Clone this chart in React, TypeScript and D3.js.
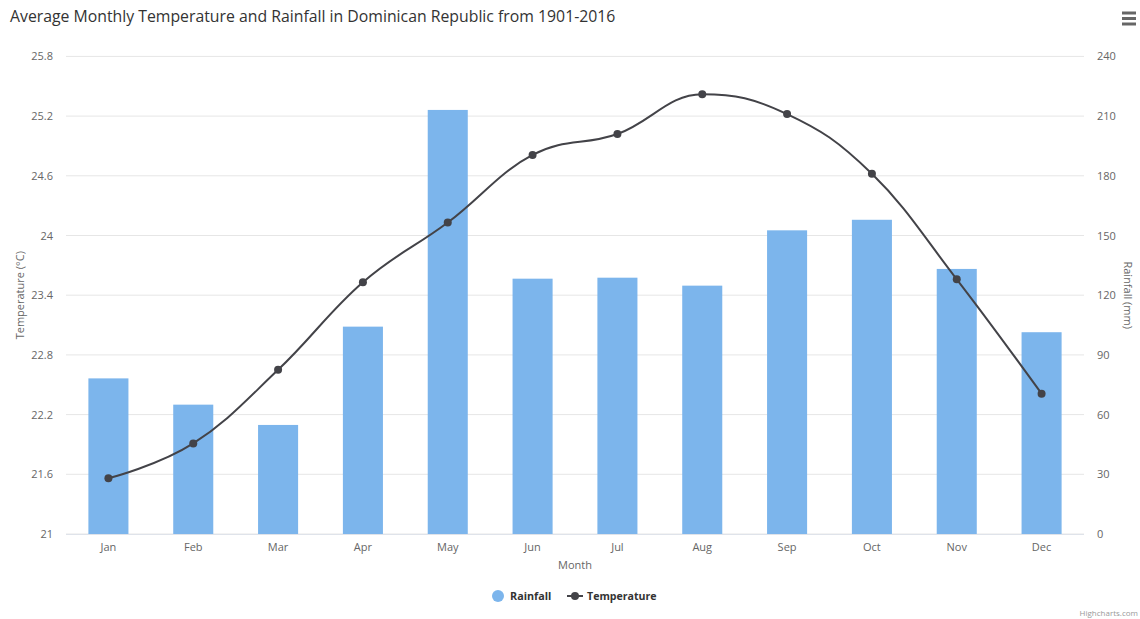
import React from "react";
import * as d3 from "d3";

const months = ["Jan", "Feb", "Mar", "Apr", "May", "Jun", "Jul", "Aug", "Sep", "Oct", "Nov", "Dec"];
const rainfall = [78.2, 65.0, 54.8, 104.2, 213.1, 128.3, 128.8, 124.8, 152.6, 157.9, 133.2, 101.4];
const temperature = [21.56, 21.91, 22.65, 23.53, 24.13, 24.81, 25.02, 25.42, 25.22, 24.62, 23.56, 22.41];
const tempTicks = [21, 21.6, 22.2, 22.8, 23.4, 24, 24.6, 25.2, 25.8];
const rainTicks = [0, 30, 60, 90, 120, 150, 180, 210, 240];

const W = 1140;
const H = 619;
const M = { left: 66, right: 1084, top: 56.4, bottom: 534 };
const FONT = "'Open Sans', 'Noto Sans', sans-serif";

// Highcharts-like spline curve for d3.line
function HcSpline(this: any, context: any) {
  this._context = context;
}
HcSpline.prototype = {
  areaStart() {},
  areaEnd() {},
  lineStart() {
    this._pts = [];
  },
  point(x: number, y: number) {
    this._pts.push([x, y]);
  },
  lineEnd() {
    const p = this._pts;
    const ctx = this._context;
    if (!p.length) return;
    const smoothing = 1.5;
    const denom = smoothing + 1;
    const rc: (number[] | null)[] = p.map(() => null);
    const lc: (number[] | null)[] = p.map(() => null);
    for (let i = 1; i < p.length - 1; i++) {
      const [x, y] = p[i];
      const [lx, ly] = p[i - 1];
      const [nx, ny] = p[i + 1];
      let leftX = (smoothing * x + lx) / denom;
      let leftY = (smoothing * y + ly) / denom;
      let rightX = (smoothing * x + nx) / denom;
      let rightY = (smoothing * y + ny) / denom;
      let corr = 0;
      if (rightX !== leftX) {
        corr = ((rightY - leftY) * (rightX - x)) / (rightX - leftX) + y - rightY;
      }
      leftY += corr;
      rightY += corr;
      if (leftY > ly && leftY > y) {
        leftY = Math.max(ly, y);
        rightY = 2 * y - leftY;
      } else if (leftY < ly && leftY < y) {
        leftY = Math.min(ly, y);
        rightY = 2 * y - leftY;
      }
      if (rightY > ny && rightY > y) {
        rightY = Math.max(ny, y);
        leftY = 2 * y - rightY;
      } else if (rightY < ny && rightY < y) {
        rightY = Math.min(ny, y);
        leftY = 2 * y - rightY;
      }
      lc[i] = [leftX, leftY];
      rc[i] = [rightX, rightY];
    }
    ctx.moveTo(p[0][0], p[0][1]);
    for (let i = 1; i < p.length; i++) {
      const a = rc[i - 1] || p[i - 1];
      const b = lc[i] || p[i];
      ctx.bezierCurveTo(a[0], a[1], b[0], b[1], p[i][0], p[i][1]);
    }
  },
};
const curveHc = (context: any) => new (HcSpline as any)(context);

export default function App() {
  const x = d3.scaleBand<string>().domain(months).range([M.left, M.right]).paddingInner(0).paddingOuter(0);
  const yT = d3.scaleLinear().domain([21, 25.8]).range([M.bottom, M.top]);
  const yR = d3.scaleLinear().domain([0, 240]).range([M.bottom, M.top]);
  const bw = x.bandwidth() * 0.472;
  const cx = (m: string) => (x(m) as number) + x.bandwidth() / 2;

  const line = d3
    .line<number>()
    .x((_, i) => cx(months[i]))
    .y((d) => yT(d))
    .curve(curveHc as any);

  const midY = (M.top + M.bottom) / 2;

  return (
    <svg
      width={W}
      height={H}
      style={{ position: "absolute", left: 0, top: 0, background: "#fff", fontFamily: FONT }}
    >
      <rect x={0} y={0} width={W} height={H} fill="#fff" />
      <text x={10} y={22} fontSize={15.8} fill="#333">
        Average Monthly Temperature and Rainfall in Dominican Republic from 1901-2016
      </text>
      {/* menu icon */}
      <g stroke="#666" strokeWidth={3}>
        {[13, 18.5, 24].map((yy) => (
          <line key={yy} x1={1122} x2={1136} y1={yy} y2={yy} />
        ))}
      </g>
      {/* gridlines */}
      {tempTicks.map((t) => (
        <line key={t} x1={M.left} x2={M.right} y1={yT(t)} y2={yT(t)} stroke="#e6e6e6" strokeWidth={1} />
      ))}
      {/* left ticks */}
      {tempTicks.map((t) => (
        <text key={"l" + t} x={53} y={yT(t) + 4} fontSize={11} fill="#666" textAnchor="end">
          {String(t)}
        </text>
      ))}
      {rainTicks.map((t) => (
        <text key={"r" + t} x={1097} y={yR(t) + 4} fontSize={11} fill="#666" textAnchor="start">
          {String(t)}
        </text>
      ))}
      <text
        transform={`translate(24,${midY}) rotate(-90)`}
        fontSize={11}
        fill="#666"
        textAnchor="middle"
      >
        Temperature (°C)
      </text>
      <text
        transform={`translate(1124,${midY}) rotate(90)`}
        fontSize={11}
        fill="#666"
        textAnchor="middle"
      >
        Rainfall (mm)
      </text>
      {/* bars */}
      {rainfall.map((v, i) => (
        <rect
          key={months[i]}
          x={cx(months[i]) - bw / 2}
          y={yR(v)}
          width={bw}
          height={yR(0) - yR(v)}
          fill="#7cb5ec"
        />
      ))}
      {/* x axis */}
      <line x1={M.left} x2={M.right} y1={M.bottom + 0.5} y2={M.bottom + 0.5} stroke="#dfe3ea" />
      {months.map((m) => (
        <text key={m} x={cx(m)} y={551} fontSize={11} fill="#666" textAnchor="middle">
          {m}
        </text>
      ))}
      <text x={(M.left + M.right) / 2} y={569} fontSize={11} fill="#666" textAnchor="middle">
        Month
      </text>
      {/* line */}
      <path d={line(temperature) || ""} fill="none" stroke="#434348" strokeWidth={2} />
      {temperature.map((v, i) => (
        <circle key={i} cx={cx(months[i])} cy={yT(v)} r={4} fill="#434348" />
      ))}
      {/* legend */}
      <circle cx={498} cy={596} r={6} fill="#7cb5ec" />
      <text x={510} y={600} fontSize={10.8} fontWeight="bold" fill="#333">
        Rainfall
      </text>
      <line x1={567} x2={583} y1={596} y2={596} stroke="#434348" strokeWidth={2} />
      <circle cx={575} cy={596} r={4} fill="#434348" />
      <text x={587} y={600} fontSize={10.6} fontWeight="bold" fill="#333">
        Temperature
      </text>
      <text x={1138} y={616} fontSize={8} fill="#999" textAnchor="end">
        Highcharts.com
      </text>
    </svg>
  );
}
